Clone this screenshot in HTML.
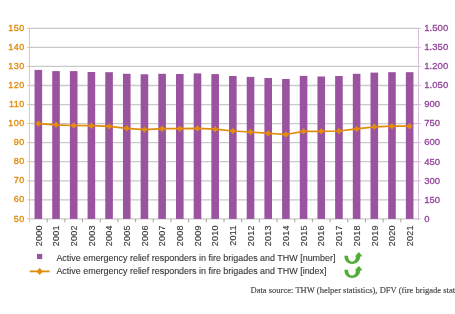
<!DOCTYPE html>
<html><head><meta charset="utf-8"><style>
html,body{margin:0;padding:0;background:#fff;width:455px;height:314px;overflow:hidden}
svg{display:block;filter:blur(0.3px)}
text{font-family:"Liberation Sans",sans-serif}
.ll{font-size:9px;letter-spacing:0.45px;fill:#e18c0c;stroke:#e18c0c;stroke-width:0.35px}
.rl{font-size:9.5px;letter-spacing:0.05px;fill:#93449a;stroke:#93449a;stroke-width:0.3px}
.xl{font-size:9px;letter-spacing:0.25px;fill:#383838;stroke:#383838;stroke-width:0.15px}
.lg{font-size:9.6px;fill:#333;stroke:#333;stroke-width:0.1px}
.src{font-family:"Liberation Serif",serif;font-size:9px;fill:#444;stroke:#444;stroke-width:0.15px}
</style></head><body>
<svg width="455" height="314" viewBox="0 0 455 314">
<line x1="29.5" y1="28.30" x2="418.5" y2="28.30" stroke="#c9c9c9" stroke-width="1.3"/>
<line x1="27" y1="28.30" x2="29.5" y2="28.30" stroke="#f3c589" stroke-width="1"/>
<line x1="418.5" y1="28.30" x2="421" y2="28.30" stroke="#dcbde0" stroke-width="1"/>
<line x1="29.5" y1="47.36" x2="418.5" y2="47.36" stroke="#c9c9c9" stroke-width="1.3"/>
<line x1="27" y1="47.36" x2="29.5" y2="47.36" stroke="#f3c589" stroke-width="1"/>
<line x1="418.5" y1="47.36" x2="421" y2="47.36" stroke="#dcbde0" stroke-width="1"/>
<line x1="29.5" y1="66.42" x2="418.5" y2="66.42" stroke="#c9c9c9" stroke-width="1.3"/>
<line x1="27" y1="66.42" x2="29.5" y2="66.42" stroke="#f3c589" stroke-width="1"/>
<line x1="418.5" y1="66.42" x2="421" y2="66.42" stroke="#dcbde0" stroke-width="1"/>
<line x1="29.5" y1="85.48" x2="418.5" y2="85.48" stroke="#c9c9c9" stroke-width="1.3"/>
<line x1="27" y1="85.48" x2="29.5" y2="85.48" stroke="#f3c589" stroke-width="1"/>
<line x1="418.5" y1="85.48" x2="421" y2="85.48" stroke="#dcbde0" stroke-width="1"/>
<line x1="29.5" y1="104.54" x2="418.5" y2="104.54" stroke="#c9c9c9" stroke-width="1.3"/>
<line x1="27" y1="104.54" x2="29.5" y2="104.54" stroke="#f3c589" stroke-width="1"/>
<line x1="418.5" y1="104.54" x2="421" y2="104.54" stroke="#dcbde0" stroke-width="1"/>
<line x1="29.5" y1="123.60" x2="418.5" y2="123.60" stroke="#c9c9c9" stroke-width="1.3"/>
<line x1="27" y1="123.60" x2="29.5" y2="123.60" stroke="#f3c589" stroke-width="1"/>
<line x1="418.5" y1="123.60" x2="421" y2="123.60" stroke="#dcbde0" stroke-width="1"/>
<line x1="29.5" y1="142.66" x2="418.5" y2="142.66" stroke="#c9c9c9" stroke-width="1.3"/>
<line x1="27" y1="142.66" x2="29.5" y2="142.66" stroke="#f3c589" stroke-width="1"/>
<line x1="418.5" y1="142.66" x2="421" y2="142.66" stroke="#dcbde0" stroke-width="1"/>
<line x1="29.5" y1="161.72" x2="418.5" y2="161.72" stroke="#c9c9c9" stroke-width="1.3"/>
<line x1="27" y1="161.72" x2="29.5" y2="161.72" stroke="#f3c589" stroke-width="1"/>
<line x1="418.5" y1="161.72" x2="421" y2="161.72" stroke="#dcbde0" stroke-width="1"/>
<line x1="29.5" y1="180.78" x2="418.5" y2="180.78" stroke="#c9c9c9" stroke-width="1.3"/>
<line x1="27" y1="180.78" x2="29.5" y2="180.78" stroke="#f3c589" stroke-width="1"/>
<line x1="418.5" y1="180.78" x2="421" y2="180.78" stroke="#dcbde0" stroke-width="1"/>
<line x1="29.5" y1="199.84" x2="418.5" y2="199.84" stroke="#c9c9c9" stroke-width="1.3"/>
<line x1="27" y1="199.84" x2="29.5" y2="199.84" stroke="#f3c589" stroke-width="1"/>
<line x1="418.5" y1="199.84" x2="421" y2="199.84" stroke="#dcbde0" stroke-width="1"/>
<line x1="29.5" y1="218.90" x2="418.5" y2="218.90" stroke="#c9c9c9" stroke-width="1.3"/>
<line x1="27" y1="218.90" x2="29.5" y2="218.90" stroke="#f3c589" stroke-width="1"/>
<line x1="418.5" y1="218.90" x2="421" y2="218.90" stroke="#dcbde0" stroke-width="1"/>
<line x1="29.5" y1="28" x2="29.5" y2="222" stroke="#f3c589" stroke-width="1"/>
<line x1="418.5" y1="28" x2="418.5" y2="220" stroke="#dcbde0" stroke-width="1"/>
<line x1="47.18" y1="219" x2="47.18" y2="222.2" stroke="#888" stroke-width="0.8"/>
<line x1="64.86" y1="219" x2="64.86" y2="222.2" stroke="#888" stroke-width="0.8"/>
<line x1="82.55" y1="219" x2="82.55" y2="222.2" stroke="#888" stroke-width="0.8"/>
<line x1="100.23" y1="219" x2="100.23" y2="222.2" stroke="#888" stroke-width="0.8"/>
<line x1="117.91" y1="219" x2="117.91" y2="222.2" stroke="#888" stroke-width="0.8"/>
<line x1="135.59" y1="219" x2="135.59" y2="222.2" stroke="#888" stroke-width="0.8"/>
<line x1="153.27" y1="219" x2="153.27" y2="222.2" stroke="#888" stroke-width="0.8"/>
<line x1="170.95" y1="219" x2="170.95" y2="222.2" stroke="#888" stroke-width="0.8"/>
<line x1="188.64" y1="219" x2="188.64" y2="222.2" stroke="#888" stroke-width="0.8"/>
<line x1="206.32" y1="219" x2="206.32" y2="222.2" stroke="#888" stroke-width="0.8"/>
<line x1="224.00" y1="219" x2="224.00" y2="222.2" stroke="#888" stroke-width="0.8"/>
<line x1="241.68" y1="219" x2="241.68" y2="222.2" stroke="#888" stroke-width="0.8"/>
<line x1="259.36" y1="219" x2="259.36" y2="222.2" stroke="#888" stroke-width="0.8"/>
<line x1="277.05" y1="219" x2="277.05" y2="222.2" stroke="#888" stroke-width="0.8"/>
<line x1="294.73" y1="219" x2="294.73" y2="222.2" stroke="#888" stroke-width="0.8"/>
<line x1="312.41" y1="219" x2="312.41" y2="222.2" stroke="#888" stroke-width="0.8"/>
<line x1="330.09" y1="219" x2="330.09" y2="222.2" stroke="#888" stroke-width="0.8"/>
<line x1="347.77" y1="219" x2="347.77" y2="222.2" stroke="#888" stroke-width="0.8"/>
<line x1="365.45" y1="219" x2="365.45" y2="222.2" stroke="#888" stroke-width="0.8"/>
<line x1="383.14" y1="219" x2="383.14" y2="222.2" stroke="#888" stroke-width="0.8"/>
<line x1="400.82" y1="219" x2="400.82" y2="222.2" stroke="#888" stroke-width="0.8"/>
<rect x="34.54" y="69.90" width="7.6" height="149.00" fill="#9a539f"/>
<rect x="52.22" y="71.10" width="7.6" height="147.80" fill="#9a539f"/>
<rect x="69.90" y="71.10" width="7.6" height="147.80" fill="#9a539f"/>
<rect x="87.59" y="72.00" width="7.6" height="146.90" fill="#9a539f"/>
<rect x="105.27" y="72.20" width="7.6" height="146.70" fill="#9a539f"/>
<rect x="122.95" y="73.80" width="7.6" height="145.10" fill="#9a539f"/>
<rect x="140.63" y="74.30" width="7.6" height="144.60" fill="#9a539f"/>
<rect x="158.31" y="73.80" width="7.6" height="145.10" fill="#9a539f"/>
<rect x="176.00" y="74.00" width="7.6" height="144.90" fill="#9a539f"/>
<rect x="193.68" y="73.40" width="7.6" height="145.50" fill="#9a539f"/>
<rect x="211.36" y="74.10" width="7.6" height="144.80" fill="#9a539f"/>
<rect x="229.04" y="76.00" width="7.6" height="142.90" fill="#9a539f"/>
<rect x="246.72" y="76.90" width="7.6" height="142.00" fill="#9a539f"/>
<rect x="264.40" y="78.00" width="7.6" height="140.90" fill="#9a539f"/>
<rect x="282.09" y="79.00" width="7.6" height="139.90" fill="#9a539f"/>
<rect x="299.77" y="75.90" width="7.6" height="143.00" fill="#9a539f"/>
<rect x="317.45" y="76.50" width="7.6" height="142.40" fill="#9a539f"/>
<rect x="335.13" y="76.00" width="7.6" height="142.90" fill="#9a539f"/>
<rect x="352.81" y="73.80" width="7.6" height="145.10" fill="#9a539f"/>
<rect x="370.50" y="72.60" width="7.6" height="146.30" fill="#9a539f"/>
<rect x="388.18" y="72.20" width="7.6" height="146.70" fill="#9a539f"/>
<rect x="405.86" y="72.20" width="7.6" height="146.70" fill="#9a539f"/>
<polyline points="38.34,123.60 56.02,124.80 73.70,125.50 91.39,125.70 109.07,126.40 126.75,128.30 144.43,129.60 162.11,128.70 179.80,128.70 197.48,128.40 215.16,129.20 232.84,131.00 250.52,132.00 268.20,133.40 285.89,134.50 303.57,131.30 321.25,131.30 338.93,131.00 356.61,128.90 374.30,126.80 391.98,126.20 409.66,126.20" fill="none" stroke="#e18c0c" stroke-width="1.7"/>
<path d="M38.34 120.40L41.34 123.60L38.34 126.80L35.34 123.60Z" fill="#e18c0c"/>
<path d="M56.02 121.60L59.02 124.80L56.02 128.00L53.02 124.80Z" fill="#e18c0c"/>
<path d="M73.70 122.30L76.70 125.50L73.70 128.70L70.70 125.50Z" fill="#e18c0c"/>
<path d="M91.39 122.50L94.39 125.70L91.39 128.90L88.39 125.70Z" fill="#e18c0c"/>
<path d="M109.07 123.20L112.07 126.40L109.07 129.60L106.07 126.40Z" fill="#e18c0c"/>
<path d="M126.75 125.10L129.75 128.30L126.75 131.50L123.75 128.30Z" fill="#e18c0c"/>
<path d="M144.43 126.40L147.43 129.60L144.43 132.80L141.43 129.60Z" fill="#e18c0c"/>
<path d="M162.11 125.50L165.11 128.70L162.11 131.90L159.11 128.70Z" fill="#e18c0c"/>
<path d="M179.80 125.50L182.80 128.70L179.80 131.90L176.80 128.70Z" fill="#e18c0c"/>
<path d="M197.48 125.20L200.48 128.40L197.48 131.60L194.48 128.40Z" fill="#e18c0c"/>
<path d="M215.16 126.00L218.16 129.20L215.16 132.40L212.16 129.20Z" fill="#e18c0c"/>
<path d="M232.84 127.80L235.84 131.00L232.84 134.20L229.84 131.00Z" fill="#e18c0c"/>
<path d="M250.52 128.80L253.52 132.00L250.52 135.20L247.52 132.00Z" fill="#e18c0c"/>
<path d="M268.20 130.20L271.20 133.40L268.20 136.60L265.20 133.40Z" fill="#e18c0c"/>
<path d="M285.89 131.30L288.89 134.50L285.89 137.70L282.89 134.50Z" fill="#e18c0c"/>
<path d="M303.57 128.10L306.57 131.30L303.57 134.50L300.57 131.30Z" fill="#e18c0c"/>
<path d="M321.25 128.10L324.25 131.30L321.25 134.50L318.25 131.30Z" fill="#e18c0c"/>
<path d="M338.93 127.80L341.93 131.00L338.93 134.20L335.93 131.00Z" fill="#e18c0c"/>
<path d="M356.61 125.70L359.61 128.90L356.61 132.10L353.61 128.90Z" fill="#e18c0c"/>
<path d="M374.30 123.60L377.30 126.80L374.30 130.00L371.30 126.80Z" fill="#e18c0c"/>
<path d="M391.98 123.00L394.98 126.20L391.98 129.40L388.98 126.20Z" fill="#e18c0c"/>
<path d="M409.66 123.00L412.66 126.20L409.66 129.40L406.66 126.20Z" fill="#e18c0c"/>
<text x="24.6" y="30.90" text-anchor="end" class="ll">150</text>
<text x="424.2" y="31.10" class="rl">1.500</text>
<text x="24.6" y="49.96" text-anchor="end" class="ll">140</text>
<text x="424.2" y="50.16" class="rl">1.350</text>
<text x="24.6" y="69.02" text-anchor="end" class="ll">130</text>
<text x="424.2" y="69.22" class="rl">1.200</text>
<text x="24.6" y="88.08" text-anchor="end" class="ll">120</text>
<text x="424.2" y="88.28" class="rl">1.050</text>
<text x="24.6" y="107.14" text-anchor="end" class="ll">110</text>
<text x="424.2" y="107.34" class="rl">900</text>
<text x="24.6" y="126.20" text-anchor="end" class="ll">100</text>
<text x="424.2" y="126.40" class="rl">750</text>
<text x="24.6" y="145.26" text-anchor="end" class="ll">90</text>
<text x="424.2" y="145.46" class="rl">600</text>
<text x="24.6" y="164.32" text-anchor="end" class="ll">80</text>
<text x="424.2" y="164.52" class="rl">450</text>
<text x="24.6" y="183.38" text-anchor="end" class="ll">70</text>
<text x="424.2" y="183.58" class="rl">300</text>
<text x="24.6" y="202.44" text-anchor="end" class="ll">60</text>
<text x="424.2" y="202.64" class="rl">150</text>
<text x="24.6" y="221.50" text-anchor="end" class="ll">50</text>
<text x="424.2" y="221.70" class="rl">0</text>
<text transform="translate(41.54,225.3) rotate(-90)" text-anchor="end" class="xl">2000</text>
<text transform="translate(59.22,225.3) rotate(-90)" text-anchor="end" class="xl">2001</text>
<text transform="translate(76.90,225.3) rotate(-90)" text-anchor="end" class="xl">2002</text>
<text transform="translate(94.59,225.3) rotate(-90)" text-anchor="end" class="xl">2003</text>
<text transform="translate(112.27,225.3) rotate(-90)" text-anchor="end" class="xl">2004</text>
<text transform="translate(129.95,225.3) rotate(-90)" text-anchor="end" class="xl">2005</text>
<text transform="translate(147.63,225.3) rotate(-90)" text-anchor="end" class="xl">2006</text>
<text transform="translate(165.31,225.3) rotate(-90)" text-anchor="end" class="xl">2007</text>
<text transform="translate(183.00,225.3) rotate(-90)" text-anchor="end" class="xl">2008</text>
<text transform="translate(200.68,225.3) rotate(-90)" text-anchor="end" class="xl">2009</text>
<text transform="translate(218.36,225.3) rotate(-90)" text-anchor="end" class="xl">2010</text>
<text transform="translate(236.04,225.3) rotate(-90)" text-anchor="end" class="xl">2011</text>
<text transform="translate(253.72,225.3) rotate(-90)" text-anchor="end" class="xl">2012</text>
<text transform="translate(271.40,225.3) rotate(-90)" text-anchor="end" class="xl">2013</text>
<text transform="translate(289.09,225.3) rotate(-90)" text-anchor="end" class="xl">2014</text>
<text transform="translate(306.77,225.3) rotate(-90)" text-anchor="end" class="xl">2015</text>
<text transform="translate(324.45,225.3) rotate(-90)" text-anchor="end" class="xl">2016</text>
<text transform="translate(342.13,225.3) rotate(-90)" text-anchor="end" class="xl">2017</text>
<text transform="translate(359.81,225.3) rotate(-90)" text-anchor="end" class="xl">2018</text>
<text transform="translate(377.50,225.3) rotate(-90)" text-anchor="end" class="xl">2019</text>
<text transform="translate(395.18,225.3) rotate(-90)" text-anchor="end" class="xl">2020</text>
<text transform="translate(412.86,225.3) rotate(-90)" text-anchor="end" class="xl">2021</text>
<rect x="37" y="253.9" width="5.2" height="5.2" fill="#9a539f"/>
<text transform="translate(56.4,260.7) scale(0.933,1)" class="lg">Active emergency relief responders in fire brigades and THW [number]</text>
<line x1="29.8" y1="271.4" x2="49.6" y2="271.4" stroke="#e18c0c" stroke-width="1.8"/>
<path d="M39.7 267.7L42.8 271.4L39.7 275.1L36.6 271.4Z" fill="#e18c0c"/>
<text transform="translate(56.4,274.4) scale(0.933,1)" class="lg">Active emergency relief responders in fire brigades and THW [index]</text>
<g transform="translate(0,0)"><path d="M344.4 255.8 C344.4 261.5 348 264 352.3 264 C356.8 264 360 261 360.3 256.6 L362.4 256.2 L358.9 252.1 L354.8 256.4 L356 256.5 C355.8 259.3 354.5 261.7 352.1 261.7 C349.6 261.7 348.1 259.3 348.1 255.8 Z" fill="#52ad36"/></g>
<g transform="translate(0,13.9)"><path d="M344.4 255.8 C344.4 261.5 348 264 352.3 264 C356.8 264 360 261 360.3 256.6 L362.4 256.2 L358.9 252.1 L354.8 256.4 L356 256.5 C355.8 259.3 354.5 261.7 352.1 261.7 C349.6 261.7 348.1 259.3 348.1 255.8 Z" fill="#52ad36"/></g>
<text transform="translate(250.5,293.2) scale(0.95,1)" class="src">Data source: THW (helper statistics), DFV (fire brigade statistics)</text>
</svg>
</body></html>
